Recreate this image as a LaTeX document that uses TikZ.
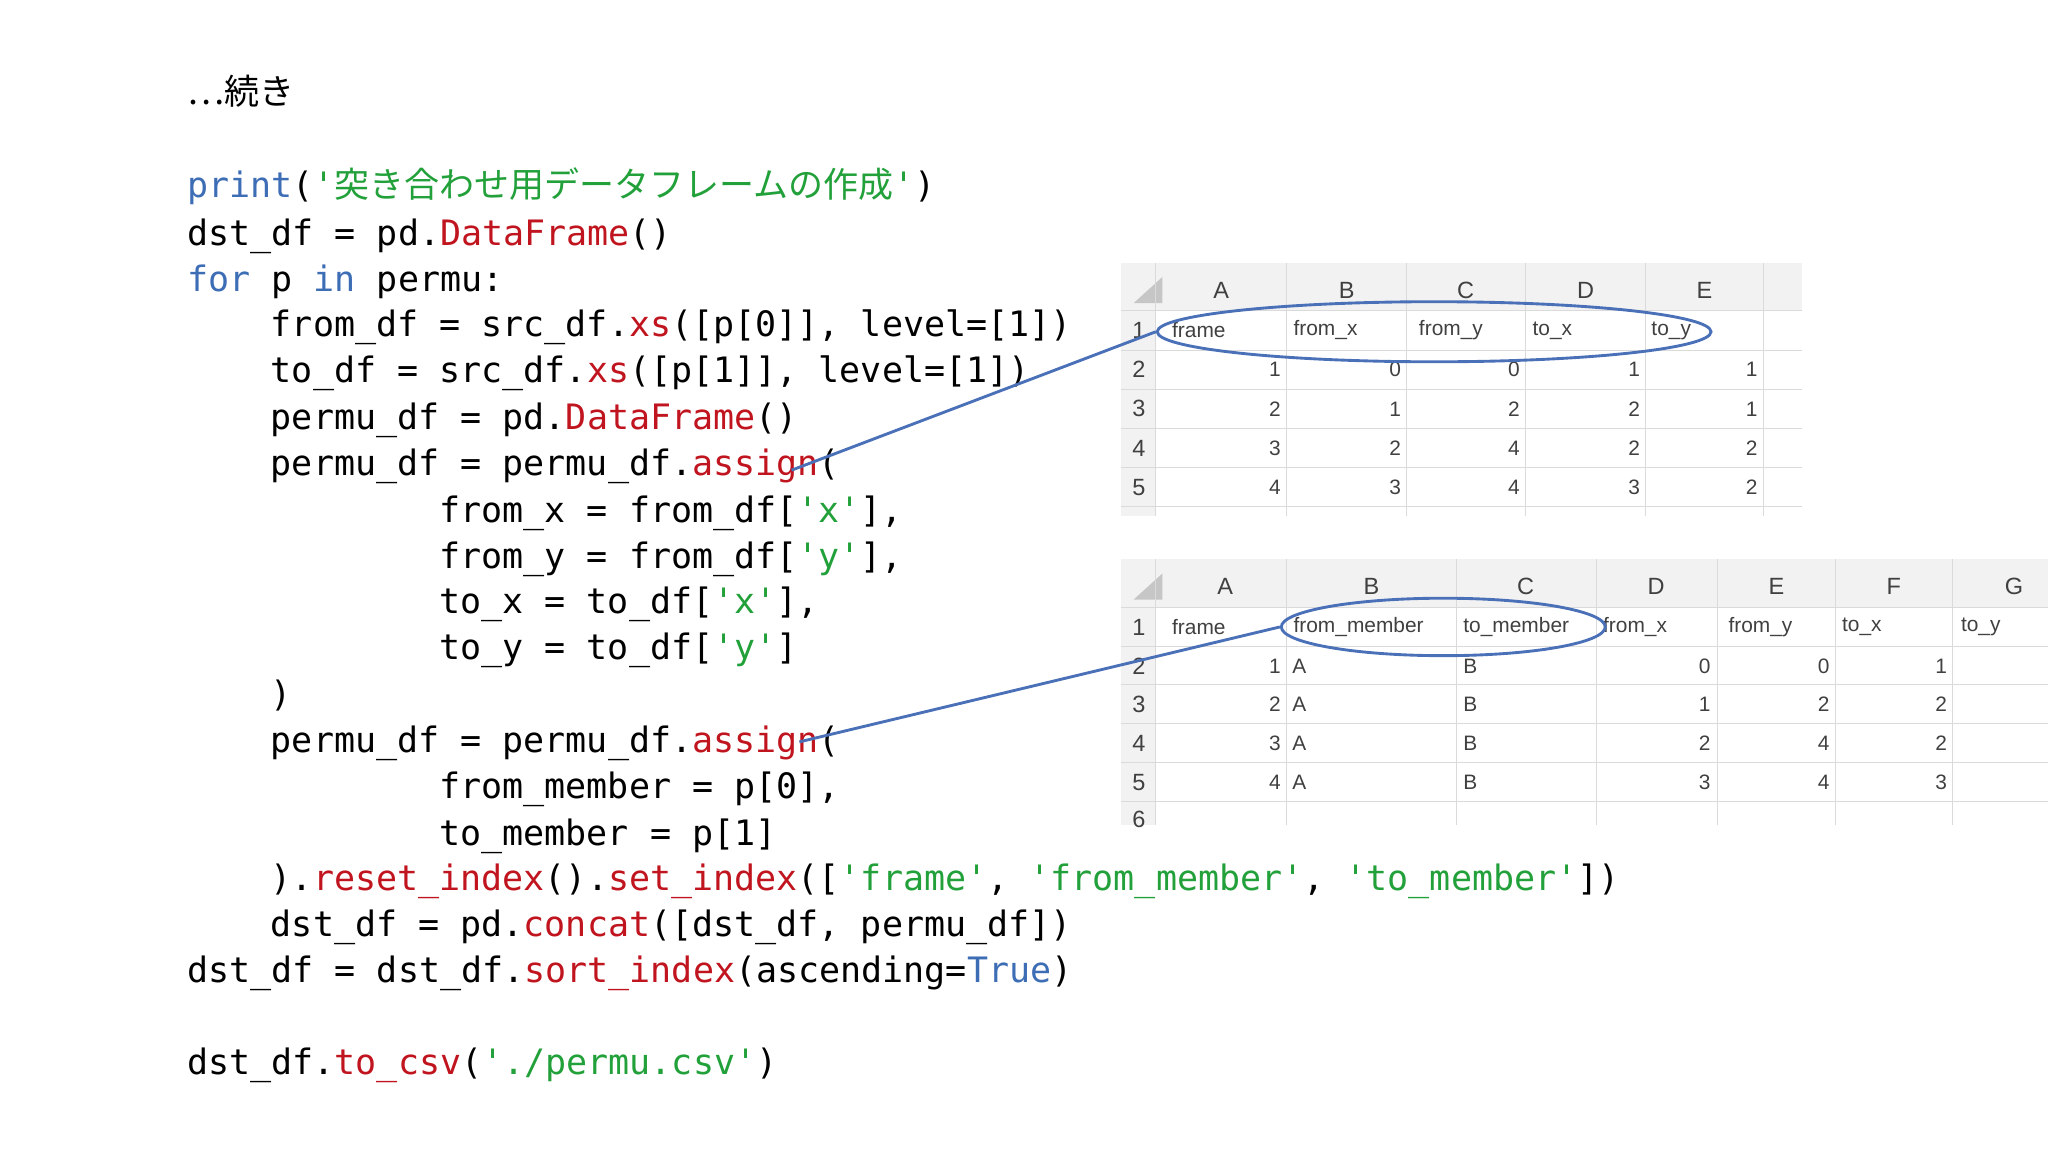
\documentclass[tikz,border=0pt]{standalone}
\usepackage{fontspec}
\setmonofont{DejaVu Sans Mono}
\setsansfont{Liberation Sans}
\newfontfamily\cjk{Noto Sans CJK JP}
\usetikzlibrary{shapes.geometric}
\definecolor{kw}{HTML}{3D6DB5}
\definecolor{fn}{HTML}{C0141E}
\definecolor{st}{HTML}{22A03A}
\definecolor{grid}{HTML}{DADADA}
\definecolor{hdr}{HTML}{F2F2F2}
\definecolor{cell}{HTML}{404040}
\definecolor{ov}{HTML}{4A70B8}
\newcommand{\K}[1]{\textcolor{kw}{#1}}
\newcommand{\F}[1]{\textcolor{fn}{#1}}
\newcommand{\Sg}[1]{\textcolor{st}{#1}}
\begin{document}
\begin{tikzpicture}[x=0.5pt,y=-0.5pt,
  code/.style={anchor=base west,inner sep=0pt,font=\fontsize{13.4}{16}\ttfamily},
  cellt/.style={font=\fontsize{8}{9}\sffamily,text=cell,inner sep=1pt},
  ring/.style={ellipse,draw=ov,line width=1.1pt,inner sep=0pt},
  conn/.style={draw=ov,line width=1.1pt}]
\useasboundingbox (0,0) rectangle (1568,882);
\node[anchor=base west,inner sep=0pt,font=\fontsize{13.4}{16}\cjk] (t) at (143,80) {…続き};
\def\L#1#2#3{\node[code] (#1) at (#2,#3+8) }
\L{l1}{143}{143} {\K{print}({\Sg{'\cjk 突き合わせ用データフレームの作成\ttfamily '}})};
\L{l2}{143}{180} {dst\_df = pd.\F{DataFrame}()};
\L{l3}{143}{215} {\K{for} p \K{in} permu:};
\L{l4}{207}{250} {from\_df = src\_df.\F{xs}([p[0]], level=[1])};
\L{l5}{207}{285} {to\_df = src\_df.\F{xs}([p[1]], level=[1])};
\L{l6}{207}{321} {permu\_df = pd.\F{DataFrame}()};
\L{l7}{207}{356} {permu\_df = permu\_df.\F{assign}(};
\L{l8}{336}{392} {from\_x = from\_df[\Sg{'x'}],};
\L{l9}{336}{427} {from\_y = from\_df[\Sg{'y'}],};
\L{l10}{336}{462} {to\_x = to\_df[\Sg{'x'}],};
\L{l11}{336}{497} {to\_y = to\_df[\Sg{'y'}]};
\L{l12}{207}{533} {)};
\L{l13}{207}{568} {permu\_df = permu\_df.\F{assign}(};
\L{l14}{336}{603} {from\_member = p[0],};
\L{l15}{336}{639} {to\_member = p[1]};
\L{l16}{207}{674} {).\F{reset\_index}().\F{set\_index}([\Sg{'frame'}, \Sg{'from\_member'}, \Sg{'to\_member'}])};
\L{l17}{207}{709} {dst\_df = pd.\F{concat}([dst\_df, permu\_df])};
\L{l18}{143}{744} {dst\_df = dst\_df.\F{sort\_index}(ascending=\K{True})};
\L{l19}{143}{815} {dst\_df.\F{to\_csv}(\Sg{'./permu.csv'})};

% ---- table 1
\fill[hdr] (858,201) rectangle (1380,238);
\fill[hdr] (858,238) rectangle (885,395);
\fill[gray!45] (868,232) -- (890,232) -- (890,212) -- cycle;
\foreach \x in {885,985,1077,1168,1260,1350} \draw[grid] (\x,201) -- (\x,395);
\foreach \y in {238,268,298,328,358,388} \draw[grid] (858,\y) -- (1380,\y);
\foreach \c/\x in {A/935,B/1031,C/1122,D/1214,E/1305}
  \node[cellt,font=\fontsize{9}{10}\sffamily] at (\x,222) {\c};
\foreach \r/\y in {1/253,2/283,3/313,4/343,5/373}
  \node[cellt,font=\fontsize{9}{10}\sffamily] at (872,\y) {\r};
\foreach \h/\x in {frame/895,from\_x/988,from\_y/1084,to\_x/1171,to\_y/1262}
  \node[cellt,anchor=west] at (\x,253) {\h};
\foreach \y/\a/\b/\c/\d/\e in {283/1/0/0/1/1,313/2/1/2/2/1,343/3/2/4/2/2,373/4/3/4/3/2}{
  \node[cellt,anchor=east] at (983,\y) {\a};
  \node[cellt,anchor=east] at (1075,\y) {\b};
  \node[cellt,anchor=east] at (1166,\y) {\c};
  \node[cellt,anchor=east] at (1258,\y) {\d};
  \node[cellt,anchor=east] at (1348,\y) {\e};}

% ---- table 2
\fill[hdr] (858,428) rectangle (1568,465);
\fill[hdr] (858,465) rectangle (885,632);
\fill[gray!45] (868,459) -- (890,459) -- (890,439) -- cycle;
\foreach \x in {885,985,1115,1222,1315,1405,1495} \draw[grid] (\x,428) -- (\x,632);
\foreach \y in {465,495,524,554,584,614} \draw[grid] (858,\y) -- (1568,\y);
\foreach \c/\x in {A/938,B/1050,C/1168,D/1268,E/1360,F/1450,G/1542}
  \node[cellt,font=\fontsize{9}{10}\sffamily] at (\x,449) {\c};
\foreach \r/\y in {1/480,2/510,3/539,4/569,5/599,6/627}
  \node[cellt,font=\fontsize{9}{10}\sffamily] at (872,\y) {\r};
\foreach \h/\x in {frame/895,from\_member/988,to\_member/1118,from\_x/1225,from\_y/1321,to\_x/1408,to\_y/1499}
  \node[cellt,anchor=west] at (\x,480) {\h};
\foreach \y/\a/\d/\e/\f in {510/1/0/0/1,539/2/1/2/2,569/3/2/4/2,599/4/3/4/3}{
  \node[cellt,anchor=east] at (983,\y) {\a};
  \node[cellt,anchor=west] at (987,\y) {A};
  \node[cellt,anchor=west] at (1118,\y) {B};
  \node[cellt,anchor=east] at (1312,\y) {\d};
  \node[cellt,anchor=east] at (1403,\y) {\e};
  \node[cellt,anchor=east] at (1493,\y) {\f};}

% ---- highlights
\node[ring,minimum width=212pt,minimum height=23pt] (e1) at (1098,254) {};
\node[ring,minimum width=124pt,minimum height=22pt] (e2) at (1105,480) {};
\coordinate (s1) at (606,360);
\coordinate (s2) at (612,568);
\draw[conn] (s1) -- (e1.west);
\draw[conn] (s2) -- (e2.west);
\end{tikzpicture}
\end{document}
